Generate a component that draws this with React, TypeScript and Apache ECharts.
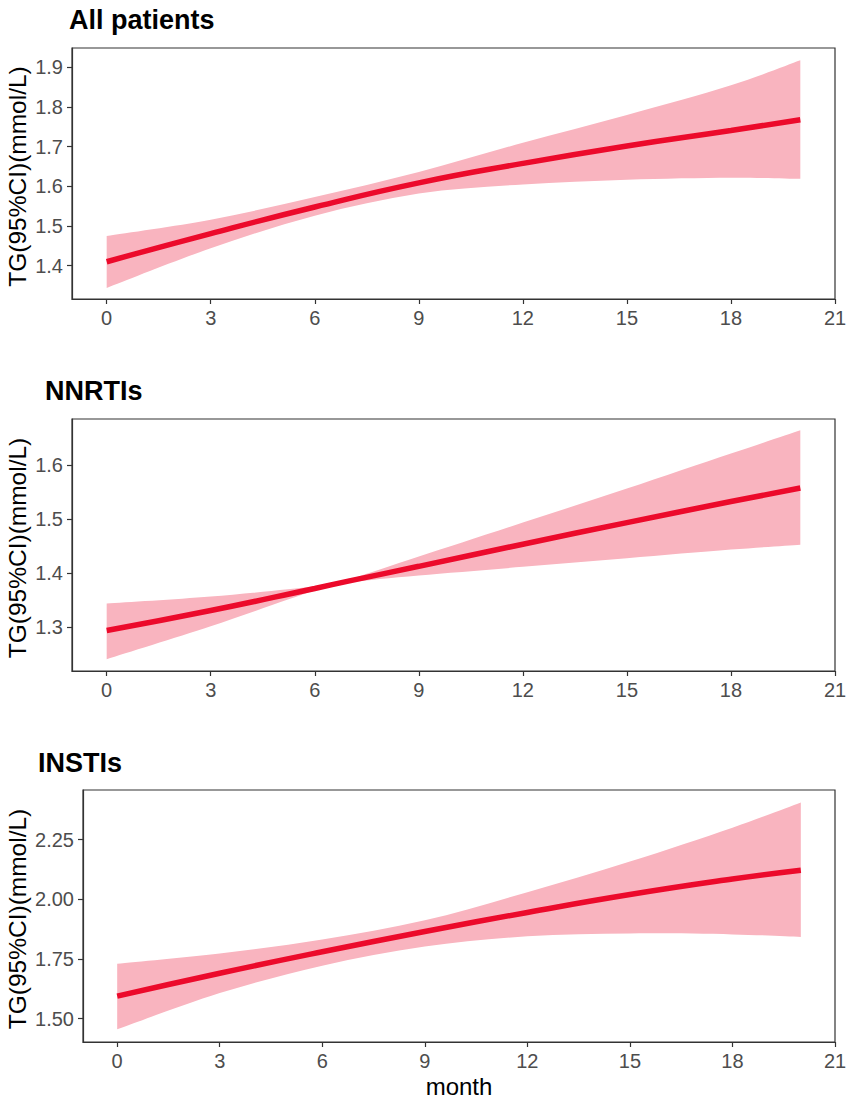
import React, { useEffect, useRef } from "react";
import * as echarts from "echarts";

// ---- data ----
const xTicks = [0, 3, 6, 9, 12, 15, 18, 21];

const allMonths = [0, 3, 6, 9, 12, 15, 18, 20];
const allFit = [1.41, 1.481, 1.548, 1.609, 1.658, 1.702, 1.741, 1.768];
const allUpper = [1.475, 1.516, 1.573, 1.636, 1.71, 1.78, 1.855, 1.918];
const allLower = [1.344, 1.444, 1.526, 1.582, 1.605, 1.617, 1.622, 1.619];
const allTicks = [1.4, 1.5, 1.6, 1.7, 1.8, 1.9];

const nnMonths = [0, 3, 6, 7, 9, 12, 15, 18, 20];
const nnFit = [1.294, 1.331, 1.372, 1.386, 1.413, 1.454, 1.494, 1.533, 1.558];
const nnUpper = [1.344, 1.357, 1.376, 1.389, 1.431, 1.494, 1.557, 1.622, 1.665];
const nnLower = [1.241, 1.302, 1.368, 1.383, 1.396, 1.412, 1.428, 1.444, 1.453];
const nnTicks = [1.3, 1.4, 1.5, 1.6];

const inMonths = [0, 3, 6, 9, 12, 15, 18, 20];
const inFit = [1.594, 1.69, 1.78, 1.865, 1.945, 2.02, 2.085, 2.122];
const inUpper = [1.73, 1.773, 1.832, 1.912, 2.03, 2.158, 2.3, 2.406];
const inLower = [1.455, 1.607, 1.722, 1.802, 1.845, 1.857, 1.853, 1.842];
const inTicks = [1.5, 1.75, 2.0, 2.25];

const titles = ["All patients", "NNRTIs", "INSTIs"];
const yTitle = "TG(95%CI)(mmol/L)";
const xTitle = "month";

const FONT = "'Liberation Sans', Arial, Helvetica, sans-serif";
const LINE_COLOR = "#EC0A2B";
const BAND_COLOR = "#F9B4BF";
const AXIS_COLOR = "#333333";

// Catmull-Rom style cubic segments through pixel points (already mapped by the axes)
function smoothSegments(pts: number[][]): string {
  let d = "";
  const n = pts.length;
  for (let i = 0; i < n - 1; i++) {
    const p0 = pts[Math.max(i - 1, 0)];
    const p1 = pts[i];
    const p2 = pts[i + 1];
    const p3 = pts[Math.min(i + 2, n - 1)];
    const c1x = p1[0] + (p2[0] - p0[0]) / 6;
    const c1y = p1[1] + (p2[1] - p0[1]) / 6;
    const c2x = p2[0] - (p3[0] - p1[0]) / 6;
    const c2y = p2[1] - (p3[1] - p1[1]) / 6;
    d += ` C${c1x},${c1y} ${c2x},${c2y} ${p2[0]},${p2[1]}`;
  }
  return d;
}

export default function App() {
  const ref = useRef<HTMLDivElement>(null);

  useEffect(() => {
    if (!ref.current) return;
    const chart = echarts.init(ref.current, null, { renderer: "svg" });

    const panels = [
      { months: allMonths, fit: allFit, upper: allUpper, lower: allLower, ticks: allTicks, min: 1.316, max: 1.949, dec: 1,
        grid: { left: 72, top: 48, width: 763, height: 251 }, titleX: 69, titleY: 6 },
      { months: nnMonths, fit: nnFit, upper: nnUpper, lower: nnLower, ticks: nnTicks, min: 1.219, max: 1.686, dec: 1,
        grid: { left: 72, top: 419, width: 763, height: 252 }, titleX: 45, titleY: 377 },
      { months: inMonths, fit: inFit, upper: inUpper, lower: inLower, ticks: inTicks, min: 1.402, max: 2.458, dec: 2,
        grid: { left: 83, top: 790, width: 752, height: 252 }, titleX: 38, titleY: 749 },
    ];

    const grids: any[] = [];
    const xAxes: any[] = [];
    const yAxes: any[] = [];
    const series: any[] = [];
    const graphics: any[] = [];

    panels.forEach((p, i) => {
      grids.push({
        ...p.grid,
        show: true,
        borderColor: AXIS_COLOR,
        borderWidth: 1.2,
        backgroundColor: "transparent",
        containLabel: false,
      });
      xAxes.push({
        type: "value",
        gridIndex: i,
        min: -1,
        max: 21,
        splitLine: { show: false },
        axisLine: { show: true, onZero: false, lineStyle: { color: AXIS_COLOR, width: 1.2 } },
        axisTick: { show: true, length: 5, customValues: xTicks, lineStyle: { color: AXIS_COLOR, width: 1.2 } },
        axisLabel: {
          show: true,
          customValues: xTicks,
          margin: 9,
          color: "#4D4D4D",
          fontSize: 20,
          fontFamily: FONT,
        },
      });
      yAxes.push({
        type: "value",
        gridIndex: i,
        min: p.min,
        max: p.max,
        splitLine: { show: false },
        axisLine: { show: true, onZero: false, lineStyle: { color: AXIS_COLOR, width: 1.2 } },
        axisTick: { show: true, length: 5, customValues: p.ticks, lineStyle: { color: AXIS_COLOR, width: 1.2 } },
        axisLabel: {
          show: true,
          customValues: p.ticks,
          margin: 9,
          color: "#4D4D4D",
          fontSize: 20,
          fontFamily: FONT,
          formatter: (v: number) => v.toFixed(p.dec),
        },
      });
      // 95% CI band as a closed path built from axis-mapped coordinates
      series.push({
        type: "custom",
        xAxisIndex: i,
        yAxisIndex: i,
        silent: true,
        z: 2,
        encode: { x: 0, y: 1 },
        data: [[p.months[0], p.lower[0]]],
        renderItem: (_params: any, api: any) => {
          const up = p.months.map((m, j) => api.coord([m, p.upper[j]]));
          const lo = p.months.map((m, j) => api.coord([m, p.lower[j]])).reverse();
          const d =
            `M${up[0][0]},${up[0][1]}` +
            smoothSegments(up) +
            ` L${lo[0][0]},${lo[0][1]}` +
            smoothSegments(lo) +
            " Z";
          return {
            type: "path",
            shape: { pathData: d },
            style: { fill: BAND_COLOR, stroke: null },
          };
        },
      });
      series.push({
        type: "line",
        xAxisIndex: i,
        yAxisIndex: i,
        smooth: 0.5,
        symbol: "none",
        silent: true,
        lineStyle: { color: LINE_COLOR, width: 5.5, cap: "butt" },
        data: p.months.map((m, j) => [m, p.fit[j]]),
        z: 5,
      });

      graphics.push({
        type: "text",
        left: p.titleX,
        top: p.titleY,
        style: { text: titles[i], fontSize: 27, fontWeight: "bold", fontFamily: FONT, fill: "#000000" },
      });
      graphics.push({
        type: "text",
        x: 17,
        y: p.grid.top + p.grid.height / 2 + 3,
        rotation: Math.PI / 2,
        style: {
          text: yTitle,
          fontSize: 24.5,
          fontFamily: FONT,
          fill: "#000000",
          align: "center",
          verticalAlign: "middle",
        },
      });
    });

    graphics.push({
      type: "text",
      x: 459,
      y: 1086,
      style: {
        text: xTitle,
        fontSize: 24,
        fontFamily: FONT,
        fill: "#000000",
        align: "center",
        verticalAlign: "middle",
      },
    });

    chart.setOption({
      animation: false,
      backgroundColor: "#ffffff",
      grid: grids,
      xAxis: xAxes,
      yAxis: yAxes,
      series,
      graphic: graphics,
    });

    return () => chart.dispose();
  }, []);

  return (
    <div
      ref={ref}
      style={{ position: "absolute", left: 0, top: 0, width: 851, height: 1103, background: "#fff" }}
    />
  );
}
